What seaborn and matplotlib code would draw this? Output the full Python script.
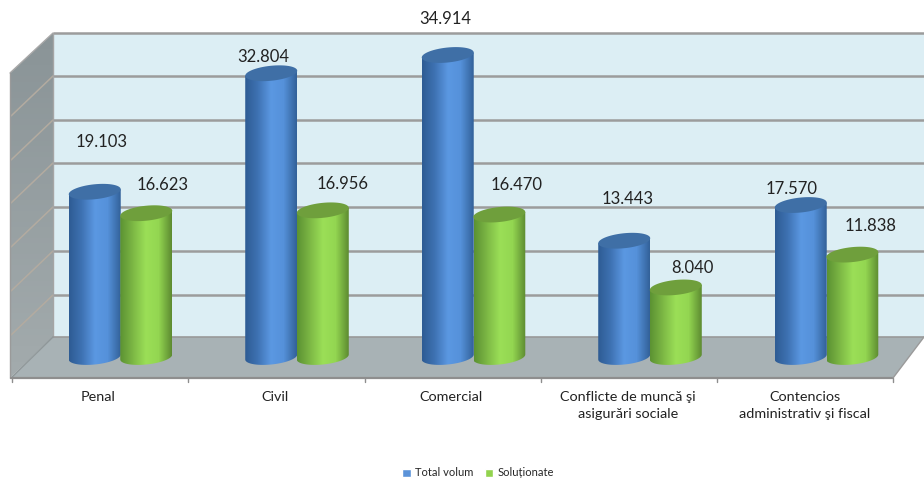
import numpy as np
import pandas as pd
import matplotlib
matplotlib.use('Agg')
import matplotlib.pyplot as plt
import seaborn as sns
from matplotlib.patches import Polygon

# data
categorias = ['Penal', 'Civil', 'Comercial', 'Conflicte de muncă şi\nasigurări sociale',
              'Contencios\nadministrativ şi fiscal']
total_volum = [19103, 32804, 34914, 13443, 17570]
solutionate = [16623, 16956, 16470, 8040, 11838]

# label offsets from the top of each bar, in pixels (dx, dy)
off_total = [(7, 50), (-8, 16), (-2, 36), (3.5, 42), (-9, 16)]
off_solut = [(16, 28), (20, 26), (17, 30), (16.5, 19), (18, 29)]

df = pd.DataFrame({
    'categoria': categorias * 2,
    'valor': total_volum + solutionate,
    'serie': ['Total volum'] * 5 + ['Soluționate'] * 5,
})

sns.set_theme(style='white')
plt.rcParams['font.family'] = ['Lato', 'DejaVu Sans']

W, H = 924, 479
fig = plt.figure(figsize=(W / 100, H / 100), dpi=100)

# backdrop: fake 3D walls and floor, in pixel coords
bg = fig.add_axes([0, 0, 1, 1])
bg.set_xlim(0, W)
bg.set_ylim(H, 0)
bg.axis('off')

GRID = '#9c9c9c'
bg.add_patch(Polygon([(53, 33), (924, 33), (924, 337), (53, 337)], color='#dceef4', lw=0))
wall = Polygon([(10, 73), (53, 33), (53, 337), (10, 378)], transform=bg.transData, color='none')
bg.add_patch(wall)
im = bg.imshow(np.linspace(0, 1, 64)[:, None], extent=(10, 53, 378, 33), aspect='auto',
               cmap=sns.blend_palette(['#8a9497', '#a3abad'], as_cmap=True))
im.set_clip_path(wall)
bg.add_patch(Polygon([(53, 337), (924, 337), (893, 378), (11, 378)], color='#a8b2b5', lw=0))

for y in [33, 76, 120, 163, 207, 251, 295]:
    bg.plot([53, 924], [y, y], color=GRID, lw=1.8, solid_capstyle='butt')
    if y > 33:
        bg.plot([11, 53], [y + 40, y], color='#b3aba0', lw=1.1)
bg.plot([10, 53], [73, 33], color='#a8a8a8', lw=1)
bg.plot([53, 53], [33, 337], color='#a5a5a5', lw=1)
bg.plot([53, 924], [337, 337], color='#999999', lw=1.2)
bg.plot([11, 53], [378, 337], color='#8f9799', lw=1)
bg.plot([10, 10], [73, 378], color='#9a9a9a', lw=1)
bg.plot([11, 893], [378, 378], color='#8e8e8e', lw=1.6)
bg.plot([893, 924], [378, 337], color='#9a9a9a', lw=1)
for x in [12, 188, 365, 541, 717, 893]:
    bg.plot([x, x], [378, 382], color='#8e8e8e', lw=1)
bg.set_xlim(0, W)
bg.set_ylim(H, 0)

# chart itself
ax = fig.add_axes([0, 0, 1, 1], facecolor='none')
sns.barplot(data=df, x='categoria', y='valor', hue='serie', ax=ax, width=0.584, gap=0,
            palette=['#5b93d9', '#92d34e'], saturation=1)

PX_X = 176.5          # pixels per category
PX_Y = 0.00865        # pixels per unit of value
BASE = 357            # pixel row of value 0
A, B, TILT = 26, 7.5, 2.5   # cylinder end, in pixels


def elipse(cx, cy, t):
    # sheared ellipse: right side sits a bit higher than the left one
    x = cx + A * np.cos(t) / PX_X
    y = cy + (B * np.sin(t) + TILT * np.cos(t)) / PX_Y
    return np.column_stack([x, y])


estilos = [
    (['#2e5c94', '#3f73b4', '#5b98e2', '#5591da', '#33629a'], '#3f6fa6', off_total, total_volum),
    (['#5c9233', '#7db845', '#9bdf57', '#93d651', '#5e8c31'], '#6f9f3c', off_solut, solutionate),
]

for k, (cont, (cores, topo, offs, vals)) in enumerate(zip(ax.containers, estilos)):
    cmap = sns.blend_palette(cores, as_cmap=True)
    for bar, (dx, dy), v in zip(cont, offs, vals):
        cx = bar.get_x() + bar.get_width() / 2
        h = bar.get_height()
        x0, x1 = bar.get_x(), bar.get_x() + bar.get_width()
        bar.set_alpha(0)

        arco = elipse(cx, 0, np.linspace(0, -np.pi, 40))
        corpo = np.vstack([arco, elipse(cx, h, np.array([np.pi, 0.0]))])
        clip = Polygon(corpo, transform=ax.transData, color='none', zorder=3 + k)
        ax.add_patch(clip)
        img = ax.imshow(np.linspace(0, 1, 64)[None, :], aspect='auto', cmap=cmap, zorder=3 + k,
                        extent=(x0, x1, -2000, h + 1000))
        img.set_clip_path(clip)
        ax.add_patch(Polygon(elipse(cx, h, np.linspace(0, 2 * np.pi, 60)), color=topo, lw=0,
                             zorder=3.5 + k))
        ax.annotate(f'{v:,}'.replace(',', '.'), xy=(cx, h), xytext=(dx, dy),
                    textcoords='offset pixels', ha='center', va='center', fontsize=12,
                    color='#222222', zorder=6)

# category labels sit left of the groups because of the perspective
for i, cat in enumerate(categorias):
    ax.annotate(cat, xy=(i, 0), xytext=(-22, -(391 - BASE)), textcoords='offset pixels',
                ha='center', va='top', fontsize=10.4, color='#222222', linespacing=1.45)

ax.set_xlim(-120.5 / PX_X, (W - 120.5) / PX_X)
ax.set_ylim((BASE - H) / PX_Y, BASE / PX_Y)
ax.axis('off')

sns.move_legend(ax, 'center', bbox_to_anchor=(478 / W, 1 - 473 / H), ncol=2, title=None,
                frameon=False, fontsize=8, handlelength=0.75, handleheight=0.75,
                handletextpad=0.35, columnspacing=1.1, borderpad=0)

fig.savefig('out.png', dpi=100)
